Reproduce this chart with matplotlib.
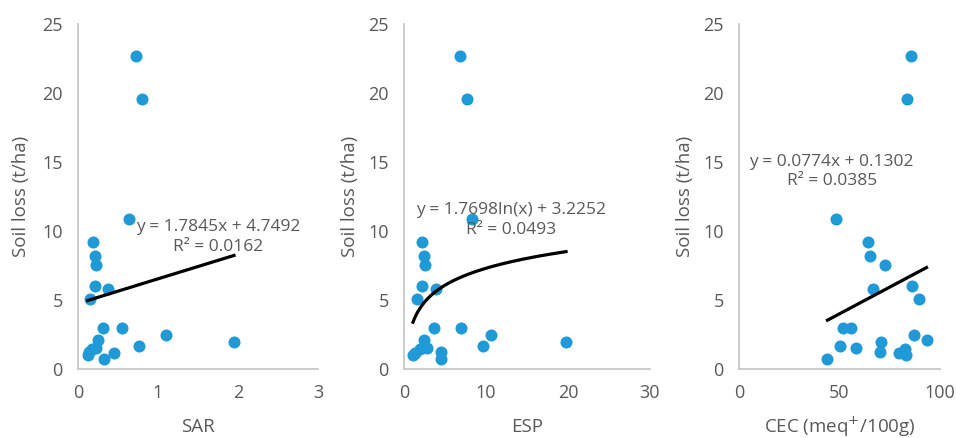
import numpy as np
import matplotlib
matplotlib.use("Agg")
import matplotlib.pyplot as plt

plt.rcParams['font.family'] = ['Open Sans', 'DejaVu Sans']

# soil loss (t/ha), shared by the three panels
soil_loss = [22.7, 19.6, 10.9, 9.2, 8.2, 7.55, 6.0, 5.8, 5.1, 3.0, 2.95,
             2.5, 2.1, 1.96, 1.67, 1.55, 1.43, 1.21, 1.14, 1.02, 0.73]

sar = [0.73, 0.80, 0.64, 0.19, 0.21, 0.23, 0.21, 0.37, 0.15, 0.31, 0.55,
       1.10, 0.25, 1.95, 0.76, 0.23, 0.17, 0.14, 0.45, 0.12, 0.33]
esp = [6.86, 7.63, 8.28, 2.2, 2.47, 2.6, 2.23, 3.9, 1.62, 3.6, 7.0,
       10.55, 2.47, 19.76, 9.6, 2.76, 1.9, 4.46, 1.3, 1.1, 4.5]
cec = [85.7, 83.7, 48.2, 64, 65, 72.8, 86.2, 66.5, 89.7, 55.7, 51.7,
       87, 93.3, 70.7, 50, 58.3, 82.5, 70.3, 79.5, 83.2, 44]

# trendline coefficients as printed on the chart
sar_fit = (1.7845, 4.7492)
esp_fit = (1.7698, 3.2252)
cec_fit = (0.0774, 0.1302)

x_labels = ["SAR", "ESP", "CEC (meq$^{+}$/100g)"]
x_ticks = [[0, 1, 2, 3], [0, 10, 20, 30], [0, 50, 100]]
y_ticks = [0, 5, 10, 15, 20, 25]
equations = ["y = 1.7845x + 4.7492\nR² = 0.0162",
             "y = 1.7698ln(x) + 3.2252\nR² = 0.0493",
             "y = 0.0774x + 0.1302\nR² = 0.0385"]

W, H = 956, 438
fig = plt.figure(figsize=(W / 100, H / 100), dpi=100)

# axes boxes in pixels: left, right ; bottom=369, top=24
boxes = [(78, 318), (404, 650), (739, 940)]
top, bottom = 24, 369
ylab_x = [20.7, 350, 685]
eq_pos = [(1.75, 9.55), (13.1, 10.8), (46.1, 14.3)]

grey = "#595959"
blue = "#1f9ad7"

xs = [sar, esp, cec]
for i, (l, r) in enumerate(boxes):
    ax = fig.add_axes([l / W, (H - bottom) / H, (r - l) / W, (bottom - top) / H])
    x = np.array(xs[i])
    ax.scatter(x, soil_loss, s=75, color=blue, zorder=3, linewidths=0)

    xx = np.linspace(x.min(), x.max(), 200)
    if i == 0:
        yy = sar_fit[0] * xx + sar_fit[1]
    elif i == 1:
        yy = esp_fit[0] * np.log(xx) + esp_fit[1]
    else:
        yy = cec_fit[0] * xx + cec_fit[1]
    ax.plot(xx, yy, color="black", lw=2.3, zorder=4)

    ax.text(eq_pos[i][0], eq_pos[i][1], equations[i], ha="center", va="center",
            color=grey, fontsize=12.5, linespacing=1.3, zorder=5)

    ax.set_xlim(x_ticks[i][0], x_ticks[i][-1])
    ax.set_ylim(0, 25)
    ax.set_xticks(x_ticks[i])
    ax.set_yticks(y_ticks)
    ax.tick_params(length=0, labelsize=13, colors=grey, pad=11)
    for s in ["top", "right"]:
        ax.spines[s].set_visible(False)
    for s in ["left", "bottom"]:
        ax.spines[s].set_color("#c8c8c8")
        ax.spines[s].set_linewidth(1.3)
    ax.set_facecolor("none")

    ax.set_ylabel("Soil loss (t/ha)", fontsize=13.5, color=grey, va="center")
    ax.yaxis.set_label_coords((ylab_x[i] - l) / (r - l), 0.5)
    ax.set_xlabel(x_labels[i], fontsize=13.5, color=grey, va="center")
    ax.xaxis.set_label_coords(0.5, -(427 - bottom) / (bottom - top))

fig.savefig("out.png", dpi=100)
